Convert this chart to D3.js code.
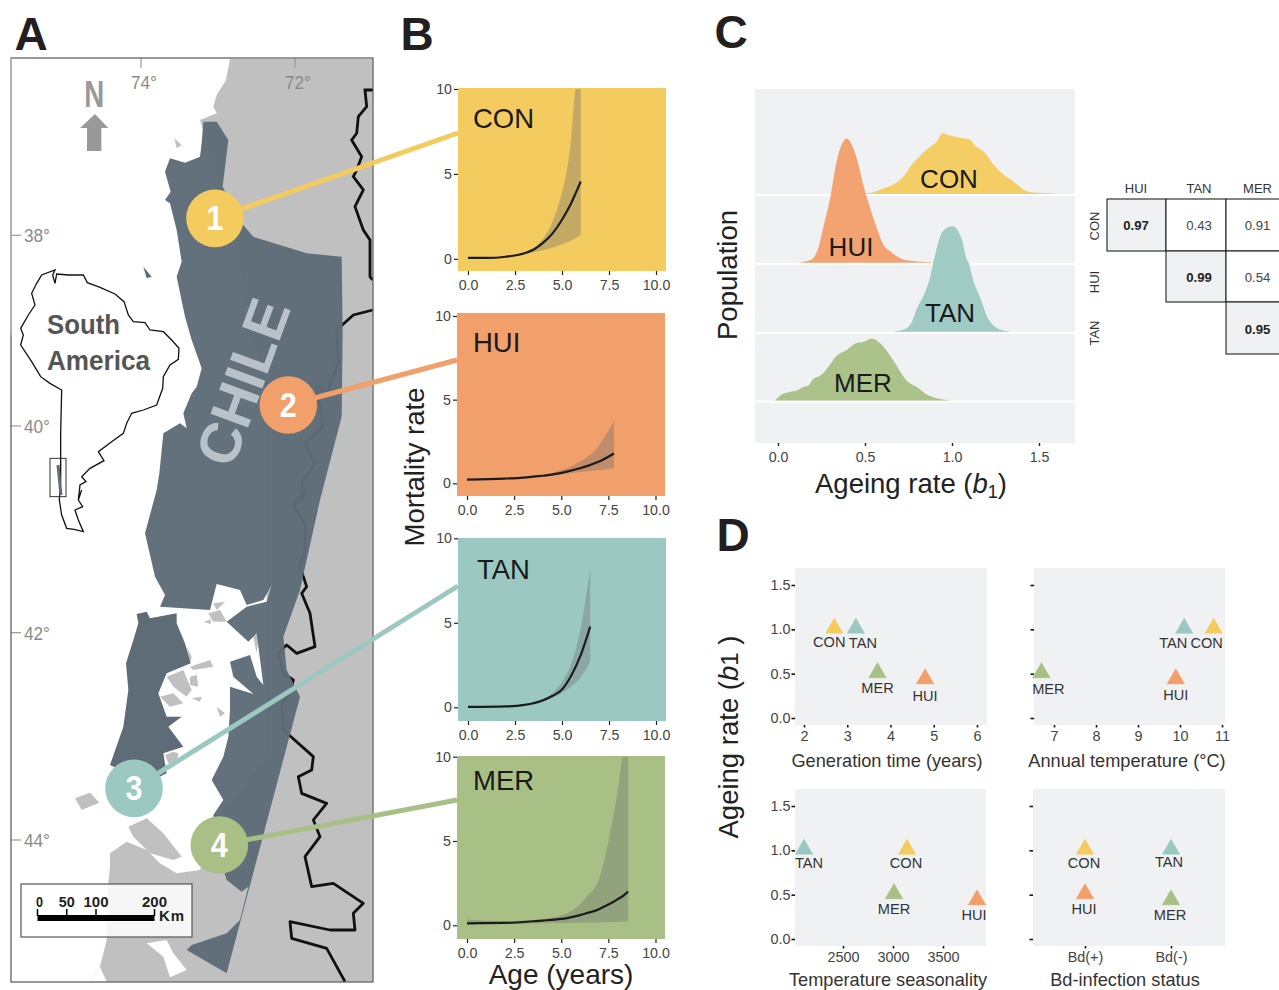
<!DOCTYPE html>
<html><head><meta charset="utf-8">
<script src="https://cdn.jsdelivr.net/npm/d3@7"></script>
<style>html,body{margin:0;padding:0;background:#fff}svg{display:block}text{font-family:"Liberation Sans",Arial,sans-serif}</style>
</head><body><svg id="c" width="1279" height="990"></svg>
<script>
// ---- categories and colours
const populations = ["CON","HUI","TAN","MER"];
const colours = {CON:"#f4cb5f",HUI:"#f19f6b",TAN:"#9cc8c2",MER:"#a8c085"};

// ---- panel B: mortality curves (age, mean, band top, band bottom)
const conAge  = [0,1,2,3,3.5,4,4.5,5,5.26,5.5,5.74,6];
const conMean = [.05,.05,.12,.33,.55,.95,1.5,2.3,2.8,3.3,3.9,4.55];
const conHigh = [.05,.05,.13,.36,.65,1.2,2.2,3.9,5.2,7.2,10,10];
const conLow  = [.05,.05,.11,.28,.38,.5,.65,.85,.97,1.08,1.22,1.4];
const huiAge  = [0,2,3,4,4.4,5.3,6,6.4,7,7.08,7.8];
const huiMean = [.22,.28,.34,.45,.5,.7,.9,1.04,1.3,1.34,1.78];
const huiHigh = [.22,.28,.35,.5,.6,.9,1.3,1.6,2.25,2.4,3.7];
const huiLow  = [.22,.28,.3,.4,.44,.58,.68,.72,.8,.8,.9];
const tanAge  = [0,2,3,4,4.5,5,5.5,6,6.5];
const tanMean = [.02,.05,.14,.42,.68,1.05,1.9,3.1,4.77];
const tanHigh = [.02,.05,.15,.5,.85,1.5,2.6,4.7,8.2];
const tanLow  = [.02,.05,.12,.35,.55,.85,1.25,1.8,2.7];
const merAge  = [0,2,3.5,4,5,5.3,6,6.35,7,7.05,7.75,8,8.28,8.55];
const merMean = [.12,.14,.24,.28,.38,.43,.6,.72,.95,.98,1.38,1.55,1.75,2];
const merHigh = [.35,.25,.3,.36,.58,.7,1.25,1.7,2.7,2.88,6.43,8,10,10];
const merLow  = [.05,.08,.1,.12,.13,.14,.15,.16,.17,.17,.19,.2,.21,.22];
const mortalityTicksX = [0,2.5,5,7.5,10];
const mortalityTicksY = [0,5,10];

// ---- panel C: posterior densities of ageing rate
const conRateX = [.43,.53,.605,.663,.73,.76,.807,.855,.912,.946,.969,1.036,1.103,1.132,1.19,1.238,1.295,1.352,1.42,1.467,1.58];
const conDens  = [0,.05,.27,.47,.97,1.38,1.83,2.22,2.63,3.05,2.97,2.83,2.72,2.42,2.05,1.47,.97,.63,.17,.07,.03];
const huiRateX = [.107,.193,.232,.26,.3,.337,.366,.395,.423,.452,.49,.529,.567,.605,.644,.74,.883];
const huiDens  = [0,.17,.75,1.75,3.25,5.08,5.92,6.22,5.92,5.25,3.92,2.75,1.75,.92,.58,.13,.03];
const tanRateX = [.663,.73,.768,.797,.845,.874,.893,.902,.921,.95,1.002,1.056,1.084,1.094,1.123,1.161,1.209,1.285,1.343];
const tanDens  = [0,.13,.47,1.13,1.97,2.72,3.47,3.8,4.47,5.05,5.27,4.63,3.63,3.47,2.55,1.72,.63,.08,0];
const merRateX = [-.017,.021,.069,.107,.146,.174,.203,.245,.289,.333,.395,.452,.49,.538,.605,.663,.739,.797,.854,.931,.998];
const merDens  = [0,.3,.43,.5,.67,.75,1.08,1.25,1.67,2.2,2.53,2.88,2.92,3.1,2.7,2,1,.67,.3,.08,0];
const rateTicks = [0,.5,1,1.5];

// ---- overlap table
const tableCols = ["HUI","TAN","MER"];
const tableRows = ["CON","HUI","TAN"];
const tableVals = [[.97,.43,.91],[null,.99,.54],[null,null,.95]];

// ---- panel D: ageing rate against covariates
const ageingRate = {CON:1,HUI:.43,TAN:1,MER:.5};
const genTime = {CON:2.7,HUI:4.8,TAN:3.2,MER:3.7};
const annualTemp = {CON:10.8,HUI:9.9,TAN:10.1,MER:6.7};
const seasonality = {CON:3140,HUI:3840,TAN:2110,MER:3010};
const bdStatus = {CON:"Bd(+)",HUI:"Bd(+)",TAN:"Bd(-)",MER:"Bd(-)"};
const bdRate = {CON:1,HUI:.5,TAN:1,MER:.43};
const rateAxisTicks = [0,.5,1,1.5];

// ---- panel A: map outlines, in map units (3 per pixel); lower-half lists restart at 0
const chileNorthEast = [[610,365],[650,365],[685,420],[668,560],[725,670],[760,710],[920,760],[1025,770],[1028,1000],[1025,1250],[960,1500]];
const chileSouth = [[900,300],[850,440],[860,540],[900,620],[680,1450],[560,1380],[575,1365],[620,1350],[680,1330],[720,1290],[745,1190],[725,1205],[680,1170],[665,1120],[640,1060],[640,975],[670,930],[635,870],[670,800],[685,740],[690,660],[690,590],[760,612],[700,560],[690,515],[750,495],[770,560],[790,585],[770,430],[745,455],[680,395],[740,350],[800,335],[815,285],[790,330],[740,345],[720,300],[650,282],[630,360],[480,350],[495,315],[465,260],[435,130],[470,0]];
const chileNorthWest = [[478,1420],[490,1300],[540,1270],[560,1285],[550,1240],[575,1180],[590,1160],[605,1105],[575,1020],[555,950],[530,830],[545,785],[530,690],[510,610],[495,600],[512,575],[495,515],[510,475],[555,488],[600,470],[605,430]];
const chiloe = [[410,372],[440,365],[450,385],[530,370],[530,400],[555,460],[572,520],[500,550],[475,610],[500,680],[545,680],[505,710],[550,770],[490,790],[500,850],[440,880],[330,825],[370,710],[385,600],[378,520],[400,450],[415,400]];
const landNorth = [[690,177],[678,240],[650,285],[640,320],[650,340],[600,360],[700,700],[800,1200]];
const landSouth = [[800,800],[640,1000],[600,1140],[530,1150],[480,1120],[440,1080],[380,1055],[330,1090],[330,1130],[325,1180],[320,1350],[300,1430],[270,1475],[1118,1475],[1118,0]];
const landNorthEnd = [[1118,177]];
const channels = [[[440,1360],[500,1350],[520,1390],[560,1440],[510,1462],[490,1400]],[[270,1475],[300,1430],[320,1475]]];
const islets = [[[225,925],[270,908],[298,938],[245,960]],[[500,560],[550,540],[575,600],[560,620],[520,590]],[[570,560],[590,555],[595,590],[570,585]],[[570,530],[630,510],[640,530],[580,540]],[[480,620],[520,610],[550,640],[510,650]],[[575,625],[605,620],[600,635]],[[650,650],[675,670],[660,680]],[[612,395],[632,388],[632,403]],[[640,340],[675,335],[650,360]],[[520,785],[535,790],[530,820],[505,820],[495,795]],[[625,370],[660,360],[680,395],[640,395]],[[560,470],[575,500],[570,520]],[[385,1010],[440,985],[490,1030],[545,1100],[520,1110],[450,1090],[400,1040]],[[760,440],[778,425],[770,490]]];
const isletNorth = [[523,415],[545,435],[530,445]];
const darkIslet = [[430,800],[455,830],[440,835]];
const borderA = [[1120,270],[1095,270],[1100,320],[1075,350],[1070,400],[1055,420],[1085,470],[1070,510],[1060,530],[1090,570],[1065,620],[1090,690],[1110,720],[1110,830],[1118,840]];
const borderBNorth = [[1118,930],[1060,945],[1010,990],[1015,1090],[990,1150],[985,1180],[950,1160],[970,1280],[915,1330],[945,1390],[905,1450],[905,1500]];
const borderBSouth = [[920,0],[880,50],[915,100],[915,180],[900,230],[920,290],[905,310],[930,370],[945,470],[890,490],[860,465],[835,490],[850,550],[880,570],[870,610],[845,640],[850,720],[940,800],[935,840],[895,860],[905,910],[980,940],[940,990],[960,1040],[915,1100],[935,1190],[1000,1180],[1090,1240],[1060,1270],[1065,1320],[990,1320],[870,1295],[875,1345],[980,1375],[1035,1475]];
const insetNorth = [[165,810],[158,825],[165,850],[170,822],[205,825],[250,825],[262,848],[300,862],[345,882],[372,905],[385,945],[400,965],[435,968],[450,990],[490,995],[515,1020],[537,1045],[535,1078],[510,1095],[490,1130],[488,1165],[470,1215],[430,1230],[395,1240],[380,1270],[370,1300],[335,1325],[295,1355],[312,1382],[270,1405],[245,1430],[258,1445],[240,1455],[235,1500]];
const insetSouth = [[245,0],[235,30],[248,50],[225,60],[235,90],[250,125],[222,118],[200,115],[185,75],[178,30]];
const insetBack = [[182,1440],[182,1300],[185,1170],[150,1150],[122,1130],[95,1085],[62,1035],[70,1005],[62,985],[85,945],[105,915],[95,880],[110,850],[125,825]];
const northArrow = [[285,342],[325,384],[304,384],[304,453],[261,453],[261,384],[240,384]];
const scaleBarKm = [0,50,100,200];
const latTicks = [{t:"38°",y:706},{t:"40°",y:1278},{t:"42°",y:1898},{t:"44°",y:2520}];
const lonTicks = [{t:"74°",x:423},{t:"72°",x:885}];
const sites = [{n:1,p:"CON",x:645,y:655},{n:2,p:"HUI",x:865,y:1215},{n:3,p:"TAN",x:402,y:2365},{n:4,p:"MER",x:658,y:2535}];

const svg = d3.select("#c");
const panelBg = "#f0f1f3", font = "'Liberation Sans',Arial,sans-serif";
const mx = d3.scaleLinear().domain([0,1140]).range([0,380]);
const my = d3.scaleLinear().domain([0,1500]).range([0,500]);
const LOWER = 1470;
const lower = a => a.map(([x,y])=>[x,y+LOWER]);
const path = d3.line().x(d=>mx(d[0])).y(d=>my(d[1]));
const closed = a => path(a)+"Z";

function txt(g,x,y,s,size,o={}){
  return g.append("text").attr("x",x).attr("y",y).text(s).attr("font-size",size)
    .attr("fill",o.fill||"#222").attr("text-anchor",o.anchor||"middle")
    .attr("font-weight",o.weight||"normal").attr("transform",o.rot!==undefined?`rotate(${o.rot},${x},${y})`:null);
}

// ===== Panel A
const A = svg.append("g");
A.append("clipPath").attr("id","mapclip").append("rect").attr("x",11).attr("y",58).attr("width",362).attr("height",924);
const map = A.append("g").attr("clip-path","url(#mapclip)");
const mapGrey = "#c0c0c0", chileFill = "#5e6c78";
map.append("path").attr("d",closed([...landNorth,...lower(landSouth),...landNorthEnd])).attr("fill",mapGrey);
channels.forEach(c=>map.append("path").attr("d",closed(lower(c))).attr("fill","#fff"));
islets.forEach(c=>map.append("path").attr("d",closed(lower(c))).attr("fill",mapGrey));
map.append("path").attr("d",closed(isletNorth)).attr("fill",mapGrey);
map.append("path").attr("d",closed(darkIslet)).attr("fill",chileFill);
map.append("path").attr("d",path(borderA)).attr("fill","none").attr("stroke","#111").attr("stroke-width",2.8);
map.append("path").attr("d",path([...borderBNorth,...lower(borderBSouth)])).attr("fill","none").attr("stroke","#111").attr("stroke-width",2.8).attr("stroke-linejoin","round");
map.append("path").attr("d",closed([...chileNorthEast,...lower(chileSouth),...chileNorthWest])).attr("fill",chileFill).attr("fill-opacity",.97);
map.append("path").attr("d",closed(lower(chiloe))).attr("fill",chileFill);
// CHILE label
txt(map,262,389,"CHILE",58,{fill:"#b9c2c8",rot:-70,weight:"bold"}).attr("textLength",172).attr("lengthAdjust","spacingAndGlyphs");
// inset continent
map.append("path").attr("d",closed([...insetNorth,...lower(insetSouth),...insetBack])).attr("fill","#fff").attr("stroke","#111").attr("stroke-width",1.3);
map.append("rect").attr("x",mx(150)).attr("y",my(1375)).attr("width",mx(48)).attr("height",my(115)).attr("fill","none").attr("stroke","#333").attr("stroke-width",1);
map.append("line").attr("x1",58).attr("x2",61).attr("y1",465).attr("y2",495).attr("stroke",chileFill).attr("stroke-width",3);
txt(map,47,334,"South",27,{anchor:"start",weight:"bold",fill:"#555"}).attr("textLength",73).attr("lengthAdjust","spacingAndGlyphs");
txt(map,47,370,"America",27,{anchor:"start",weight:"bold",fill:"#555"}).attr("textLength",103).attr("lengthAdjust","spacingAndGlyphs");
// N arrow
txt(map,mx(283),my(320),"N",37,{fill:"#999",weight:"bold"}).attr("textLength",20).attr("lengthAdjust","spacingAndGlyphs");
map.append("path").attr("d",closed(northArrow)).attr("fill","#999");
// graticule
latTicks.forEach(d=>{
  map.append("line").attr("x1",11).attr("x2",21).attr("y1",my(d.y)).attr("y2",my(d.y)).attr("stroke","#999").attr("stroke-width",1.2);
  txt(map,24,my(d.y)+7,d.t,18,{anchor:"start",fill:"#8a8a8a"}).attr("textLength",26).attr("lengthAdjust","spacingAndGlyphs");
});
lonTicks.forEach(d=>{
  map.append("line").attr("x1",mx(d.x)).attr("x2",mx(d.x)).attr("y1",58).attr("y2",68).attr("stroke","#999").attr("stroke-width",1.2);
  txt(map,mx(d.x)+3,89,d.t,18,{fill:"#8a8a8a"}).attr("textLength",26).attr("lengthAdjust","spacingAndGlyphs");
});
// scale bar
map.append("rect").attr("x",21).attr("y",884).attr("width",171).attr("height",53).attr("fill","#fff").attr("fill-opacity",.86).attr("stroke","#555").attr("stroke-width",1.2);
const kmX = d3.scaleLinear().domain([0,200]).range([37.5,154.5]);
map.append("rect").attr("x",kmX(0)).attr("y",915).attr("width",kmX(200)-kmX(0)).attr("height",6).attr("fill","#000");
scaleBarKm.forEach(k=>{
  map.append("line").attr("x1",kmX(k)).attr("x2",kmX(k)).attr("y1",909).attr("y2",916).attr("stroke","#000").attr("stroke-width",1.5);
  txt(map,kmX(k)+(k===0?2:0),907,k,15,{fill:"#222",weight:"bold"}).attr("textLength",k===0?7:(k===50?16:25)).attr("lengthAdjust","spacingAndGlyphs");
});
txt(map,159,921,"Km",15,{anchor:"start",weight:"bold"}).attr("textLength",25);
A.append("rect").attr("x",11).attr("y",58).attr("width",362).attr("height",924).attr("fill","none").attr("stroke","#555").attr("stroke-width",1.2);
A.append("line").attr("x1",11).attr("x2",11).attr("y1",58).attr("y2",335).attr("stroke","#bbb").attr("stroke-width",1.4);

// ===== Panel B
const panelsB = [
 {p:"CON",age:conAge,mean:conMean,hi:conHigh,lo:conLow,r:[458,88,666,271],x:[468,656],y:[258.8,89],lab:[473,128]},
 {p:"HUI",age:huiAge,mean:huiMean,hi:huiHigh,lo:huiLow,r:[457,313,665,496],x:[467,655.5],y:[483.3,316],lab:[473,352]},
 {p:"TAN",age:tanAge,mean:tanMean,hi:tanHigh,lo:tanLow,r:[458,538,666,721],x:[468,656],y:[707.3,538.3],lab:[477,579]},
 {p:"MER",age:merAge,mean:merMean,hi:merHigh,lo:merLow,r:[457,756,665,939],x:[467,655.5],y:[925.3,756.7],lab:[473,790]}];
const lineEnds = {CON:[458,133],HUI:[457,360],TAN:[458,586],MER:[457,800]};
sites.forEach(s=>{
  const e=lineEnds[s.p];
  svg.append("line").attr("x1",mx(s.x)).attr("y1",my(s.y)).attr("x2",e[0]).attr("y2",e[1]).attr("stroke",colours[s.p]).attr("stroke-width",5);
});
sites.forEach(s=>{
  svg.append("circle").attr("cx",mx(s.x)).attr("cy",my(s.y)).attr("r",28.8).attr("fill",colours[s.p]);
  txt(svg,mx(s.x),my(s.y)+12,s.n,35,{fill:"#fff",weight:"bold"}).attr("textLength",17).attr("lengthAdjust","spacingAndGlyphs");
});
panelsB.forEach(b=>{
  const g = svg.append("g");
  const [x0,y0,x1,y1]=b.r;
  g.append("rect").attr("x",x0).attr("y",y0).attr("width",x1-x0).attr("height",y1-y0).attr("fill",colours[b.p]);
  const X=d3.scaleLinear().domain([0,10]).range(b.x), Y=d3.scaleLinear().domain([0,10]).range(b.y);
  const band=d3.area().x((d,i)=>X(b.age[i])).y0((d,i)=>Y(b.lo[i])).y1((d,i)=>Y(b.hi[i])).curve(d3.curveMonotoneX);
  g.append("path").attr("d",band(b.age)).attr("fill","#6b6b6b").attr("fill-opacity",.36);
  const ln=d3.line().x((d,i)=>X(b.age[i])).y((d,i)=>Y(b.mean[i])).curve(d3.curveMonotoneX);
  g.append("path").attr("d",ln(b.age)).attr("fill","none").attr("stroke","#1c1c1c").attr("stroke-width",2.2);
  const ax=g.append("g").attr("transform",`translate(0,${y1})`).call(d3.axisBottom(X).tickValues(mortalityTicksX).tickFormat(d3.format(".1f")).tickSize(4).tickPadding(5));
  const ay=g.append("g").attr("transform",`translate(${x0},0)`).call(d3.axisLeft(Y).tickValues(mortalityTicksY).tickSize(4).tickPadding(2));
  [ax,ay].forEach(a=>{a.select(".domain").remove();a.selectAll("line").attr("stroke","#222").attr("stroke-width",1.2);a.selectAll("text").attr("font-family",font).attr("font-size",14.2).attr("fill","#444");});
  txt(g,b.lab[0],b.lab[1],b.p,27.5,{anchor:"start",fill:"#1a1a1a"});
});
txt(svg,424,467,"Mortality rate",27.5,{rot:-90,fill:"#222"});
txt(svg,561,984,"Age (years)",28,{fill:"#222"});

// ===== Panel C
const C = svg.append("g");
C.append("rect").attr("x",755).attr("y",89).attr("width",320).attr("height",354).attr("fill",panelBg);
const rX = d3.scaleLinear().domain([0,1.5]).range([778,1039]);
const rowY = d3.scalePoint().domain(populations).range([194.5,401]);
const dH = d3.scaleLinear().domain([0,1]).range([0,20]);
populations.forEach(p=>C.append("line").attr("x1",755).attr("x2",1075).attr("y1",rowY(p)+.5).attr("y2",rowY(p)+.5).attr("stroke","#fff").attr("stroke-width",2));
const ridges=[["CON",conRateX,conDens,[949,188]],["HUI",huiRateX,huiDens,[851,256]],["TAN",tanRateX,tanDens,[950,322]],["MER",merRateX,merDens,[863,392]]];
ridges.forEach(([p,xs,ds])=>{
  const a=d3.area().x((d,i)=>rX(xs[i])).y0(rowY(p)-.5).y1((d,i)=>rowY(p)-.5-dH(ds[i])).curve(d3.curveMonotoneX);
  C.append("path").attr("d",a(xs)).attr("fill",colours[p]).attr("fill-opacity",.96);
});
ridges.forEach(([p,,,l])=>txt(C,l[0],l[1],p,26,{fill:"#1a1a1a"}));
const axC=C.append("g").attr("transform","translate(0,443)").call(d3.axisBottom(rX).tickValues(rateTicks).tickFormat(d3.format(".1f")).tickSize(3).tickPadding(6));
axC.select(".domain").remove();axC.selectAll("line").attr("stroke","#222").attr("stroke-width",1.4);axC.selectAll("text").attr("font-family",font).attr("font-size",14.2).attr("fill","#444");
txt(C,737,275,"Population",27.5,{rot:-90,fill:"#222"});
const cT=txt(C,911,493,"Ageing rate (",27.5,{fill:"#222"});
cT.append("tspan").attr("font-style","italic").text("b");
cT.append("tspan").attr("font-size",18).attr("dy",5).text("1");
cT.append("tspan").attr("dy",-5).text(")");

// table
const T = svg.append("g");
const tX=[1107,1166,1226,1286], tY=[199,251,302,354];
const colCentre=[1136,1199,1257.5], rowCentre=[225.5,277.5,329];
tableCols.forEach((c,j)=>txt(T,colCentre[j],193,c,13,{fill:"#333"}));
tableRows.forEach((r,i)=>txt(T,1099,i===0?226:(i===1?282:333),r,13,{fill:"#333",rot:-90}));
tableVals.forEach((row,i)=>row.forEach((v,j)=>{
  if(v===null) return;
  T.append("rect").attr("x",tX[j]).attr("y",tY[i]).attr("width",tX[j+1]-tX[j]).attr("height",tY[i+1]-tY[i]).attr("fill",i===j?panelBg:"#fff").attr("stroke","#222").attr("stroke-width",1.1);
  txt(T,colCentre[j],rowCentre[i]+4.5,d3.format(".2f")(v),13.2,{fill:i===j?"#222":"#444",weight:i===j?"bold":"normal"});
}));

// ===== Panel D
const triangle=d3.symbol().type(d3.symbolTriangle).size(156);
const offsets = {
 gen:{CON:[-5,18],TAN:[7,19],MER:[0,19],HUI:[0,21]},
 temp:{TAN:[-11,19],CON:[-7,19],MER:[7,20],HUI:[0,20]},
 season:{TAN:[5,18],CON:[-1,18],MER:[0,19],HUI:[-3,19]},
 bd:{CON:[-1,18],TAN:[-2,17],HUI:[-1,19],MER:[-1,19]}};
const panelsD=[
 {k:"gen",r:[795,568,987,725],xv:genTime,rate:ageingRate,xd:[2,6],xr:[804,977],ticks:[2,3,4,5,6],lab:true,title:"Generation time (years)",tc:887,ty:767,yr:[718,585]},
 {k:"temp",r:[1034,568,1225,725],xv:annualTemp,rate:ageingRate,xd:[7,11],xr:[1054,1222],ticks:[7,8,9,10,11],lab:false,title:"Annual temperature (°C)",tc:1127,ty:767,yr:[718,585]},
 {k:"season",r:[795,789,986,946],xv:seasonality,rate:ageingRate,xd:[2500,3500],xr:[843,943],ticks:[2500,3000,3500],lab:true,title:"Temperature seasonality",tc:888,ty:985.5,yr:[939,806]},
 {k:"bd",r:[1033,789,1225,946],xv:bdStatus,rate:bdRate,xd:null,xr:[1085,1171],ticks:["Bd(+)","Bd(-)"],lab:false,title:"Bd-infection status",tc:1125,ty:985.5,yr:[939,806]}];
panelsD.forEach(d=>{
  const g=svg.append("g");
  const [x0,y0,x1,y1]=d.r;
  g.append("rect").attr("x",x0).attr("y",y0).attr("width",x1-x0).attr("height",y1-y0).attr("fill",panelBg);
  const X=d.xd?d3.scaleLinear().domain(d.xd).range(d.xr):d3.scaleOrdinal().domain(d.ticks).range(d.xr);
  const Y=d3.scaleLinear().domain([0,1.5]).range(d.yr);
  const xAxis=d3.axisBottom(X).tickValues(d.ticks).tickSize(2.5).tickPadding(3);
  if(d.xd) xAxis.tickFormat(d3.format("d"));
  const ax=g.append("g").attr("transform",`translate(0,${y1})`).call(xAxis);
  const ay=g.append("g").attr("transform",`translate(${x0},0)`).call(d3.axisLeft(Y).tickValues(rateAxisTicks).tickFormat(d.lab?d3.format(".1f"):"").tickSize(3.5).tickPadding(1));
  [ax,ay].forEach(a=>{a.select(".domain").remove();a.selectAll("line").attr("stroke","#111").attr("stroke-width",1.6);a.selectAll("text").attr("font-family",font).attr("font-size",14.4).attr("fill","#444");});
  populations.forEach(p=>{
    const px=X(d.xv[p]),py=Y(d.rate[p]);
    g.append("path").attr("d",triangle()).attr("transform",`translate(${px},${py-1})`).attr("fill",colours[p]).attr("stroke","#fff").attr("stroke-opacity",.55).attr("stroke-width",.6);
  });
  populations.forEach(p=>{
    const px=X(d.xv[p]),py=Y(d.rate[p]),o=offsets[d.k][p];
    txt(g,px+o[0],py+o[1],p,14.6,{fill:"#333"});
  });
  txt(g,d.tc,d.ty,d.title,18.2,{fill:"#333"});
});
const dT=txt(svg,738,737,"Ageing rate (",27.5,{fill:"#222",rot:-90});
dT.append("tspan").attr("font-style","italic").text("b");
dT.append("tspan").attr("font-size",24).text("1");
dT.append("tspan").text(" )");

// ===== Panel letters
[["A",31,50],["B",417,50],["C",731,48],["D",733,551]].forEach(([s,x,y])=>txt(svg,x,y,s,46,{weight:"bold",fill:"#231f20"}));
</script></body></html>
